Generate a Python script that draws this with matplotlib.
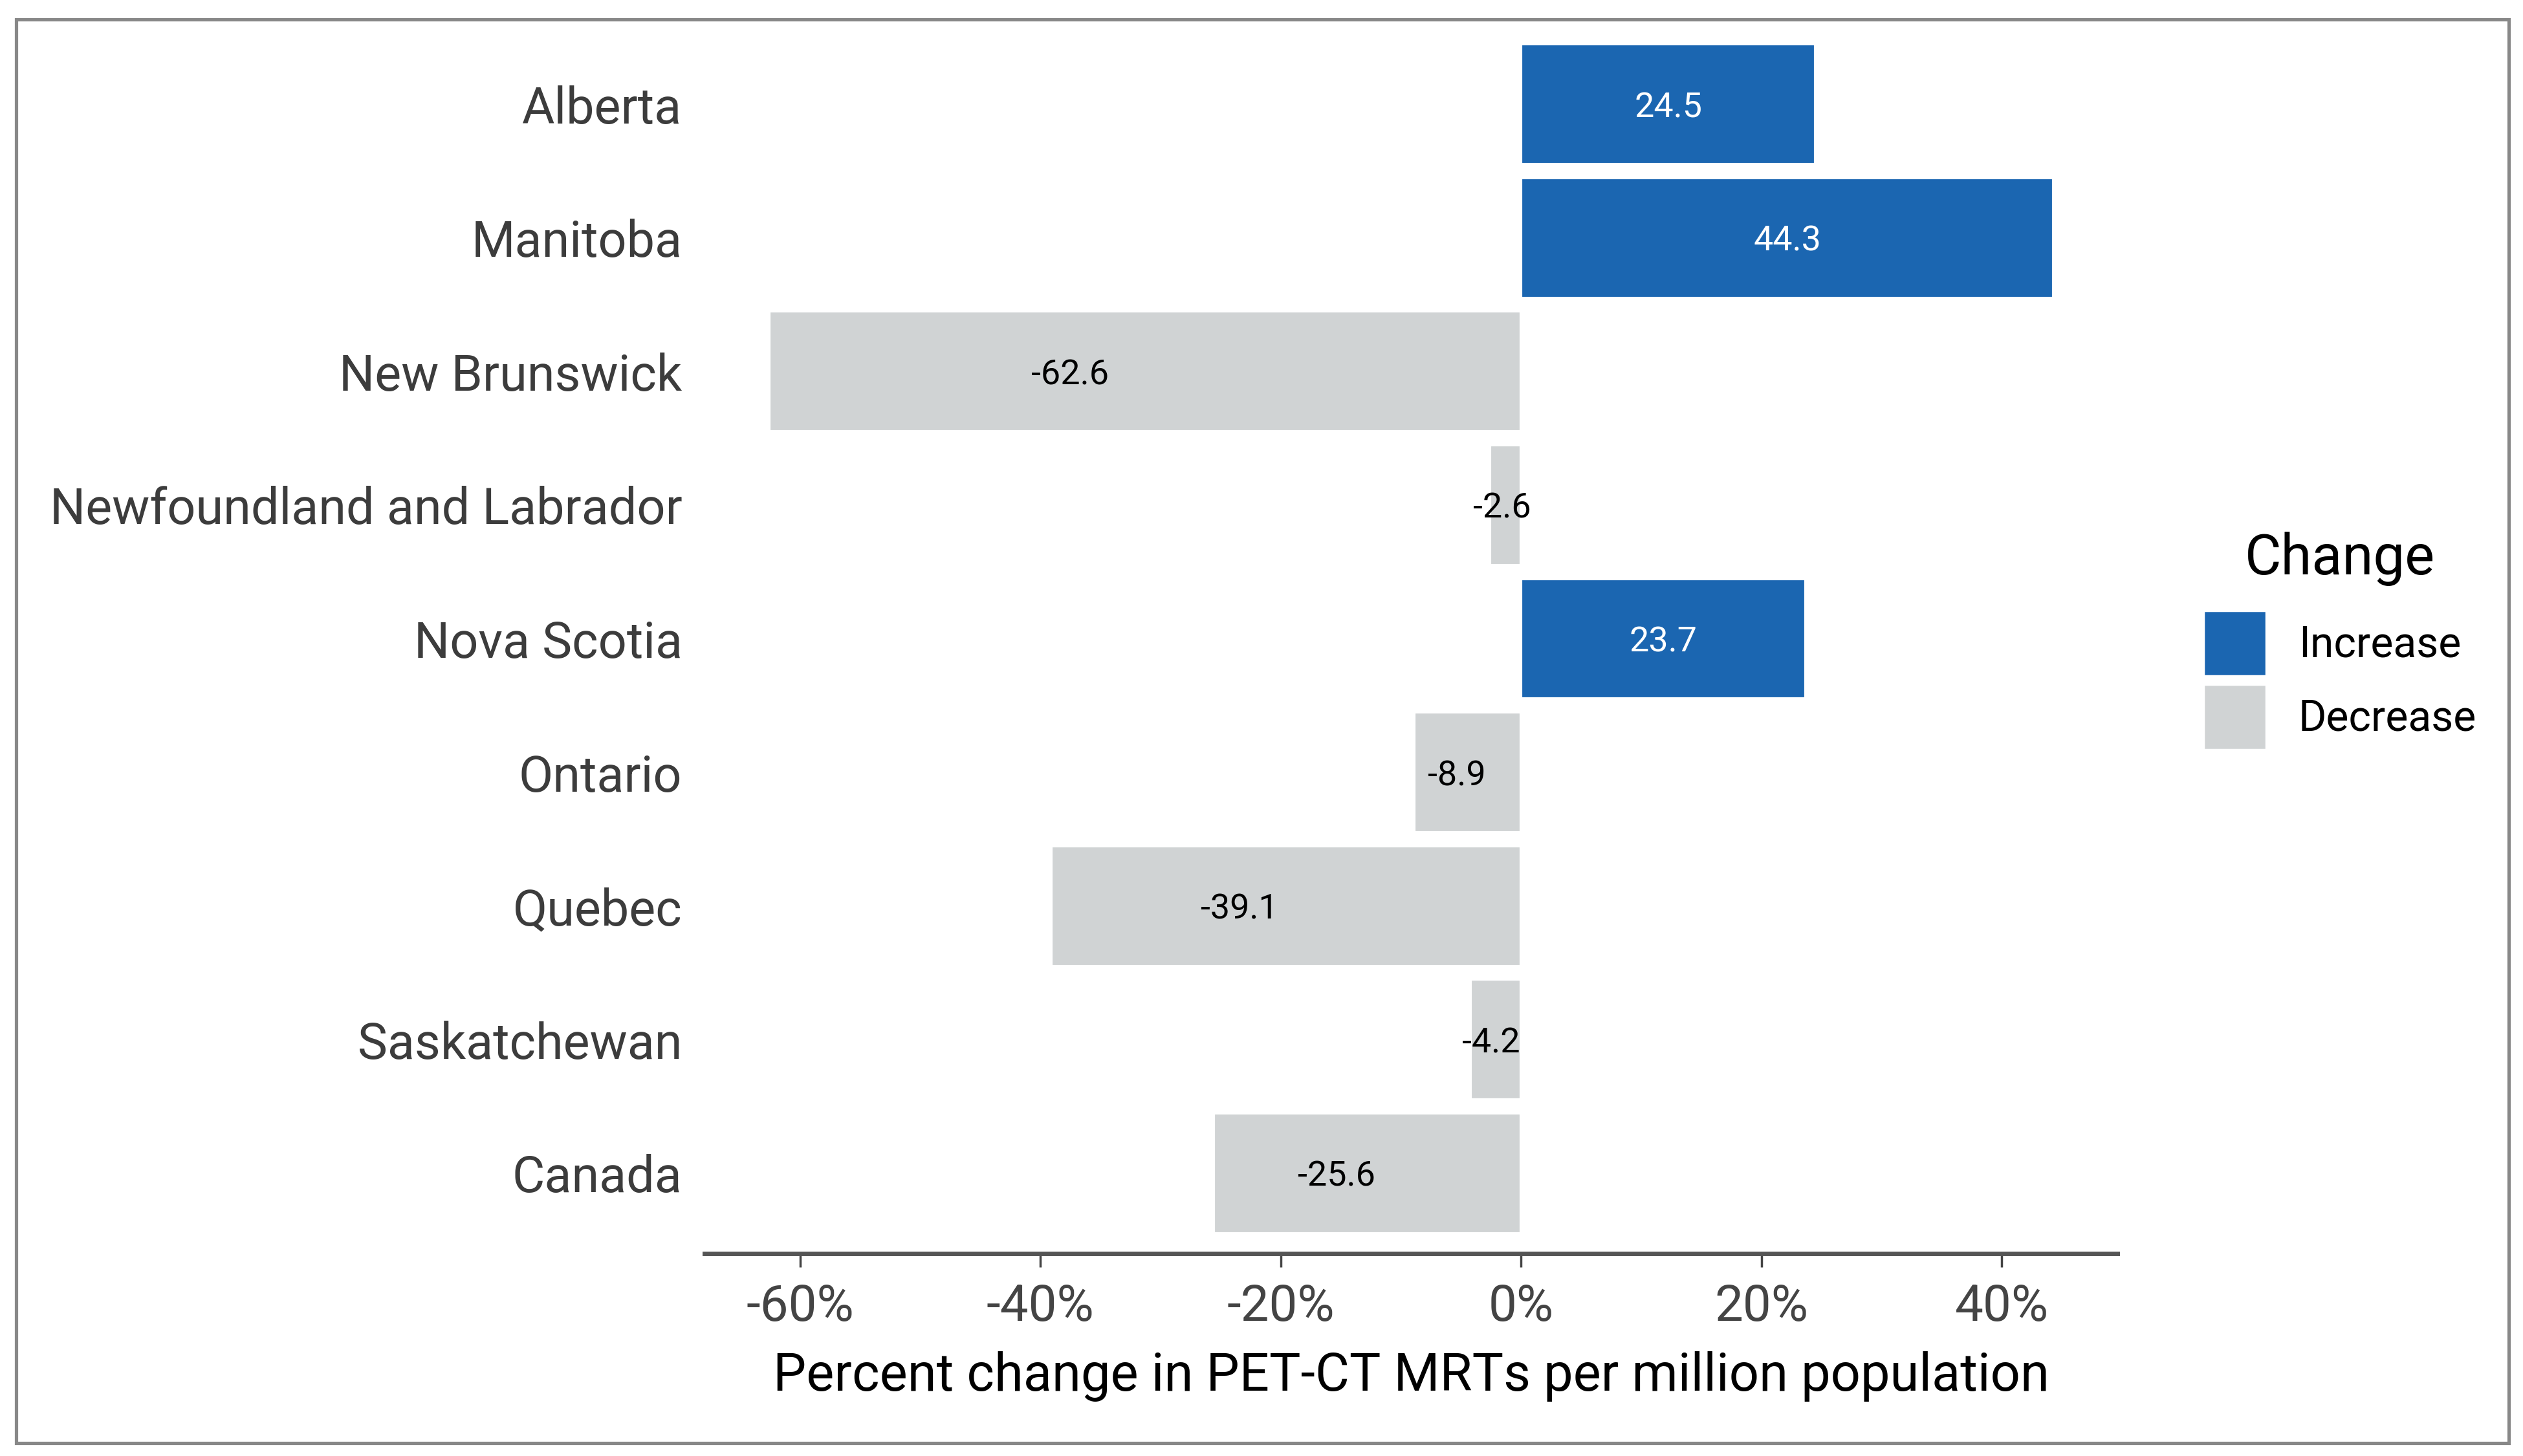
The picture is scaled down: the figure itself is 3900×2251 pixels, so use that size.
import matplotlib
matplotlib.use("Agg")
import matplotlib.pyplot as plt
from matplotlib.patches import Patch, Rectangle
from matplotlib.ticker import FuncFormatter

plt.rcParams['font.family'] = ['Roboto', 'DejaVu Sans']

# data
provinces = ['Alberta', 'Manitoba', 'New Brunswick', 'Newfoundland and Labrador',
             'Nova Scotia', 'Ontario', 'Quebec', 'Saskatchewan', 'Canada']
pct_change = [24.5, 44.3, -62.6, -2.6, 23.7, -8.9, -39.1, -4.2, -25.6]
change_labels = ['Increase', 'Decrease']
change_colors = ['#1b66b1', '#d0d3d4']

fig = plt.figure(figsize=(15.6, 9.004), dpi=250)
ax = fig.add_axes([0.2793, 0.1392, 0.5600, 0.8442])

ypos = list(range(len(provinces)))
colors = [change_colors[0] if v > 0 else change_colors[1] for v in pct_change]
ax.barh(ypos, pct_change, height=0.9, color=colors, edgecolor='white', linewidth=1.2)

for y, v in zip(ypos, pct_change):
    if v > 0:
        ax.text(v * 0.5, y, f'{v:.1f}', ha='center', va='center_baseline', fontsize=15.5, color='white')
    else:
        ax.text(v * 0.6, y, f'{v:.1f}', ha='center', va='center_baseline', fontsize=15.5, color='black')

span = max(pct_change) - min(pct_change)
ax.set_xlim(min(pct_change) - 0.05 * span, max(pct_change) + 0.05 * span)
ax.set_ylim(len(provinces) - 0.4, -0.6)
ax.set_xticks([-60, -40, -20, 0, 20, 40])
ax.xaxis.set_major_formatter(FuncFormatter(lambda x, p: f'{x:.0f}%'))
ax.set_yticks(ypos)
ax.set_yticklabels(provinces, fontsize=22.3, color='#3c3c3c')
ax.tick_params(axis='y', length=0, pad=10)
ax.tick_params(axis='x', length=6, width=1.0, color='#444444', labelsize=22.5,
               labelcolor='#444444', pad=7)
ax.set_xlabel('Percent change in PET-CT MRTs per million population', fontsize=23.4,
              color='black', labelpad=9)

for s in ['top', 'right', 'left']:
    ax.spines[s].set_visible(False)
ax.spines['bottom'].set_linewidth(2.0)
ax.spines['bottom'].set_color('#555555')

handles = [Patch(facecolor=c, edgecolor='white', label=l)
           for l, c in zip(change_labels, change_colors)]
leg = fig.legend(handles=handles, title='Change', loc='center left',
                 bbox_to_anchor=(0.858, 0.56), frameon=False, fontsize=19,
                 title_fontsize=25, handlelength=1.48, handleheight=1.97,
                 handletextpad=0.75, labelspacing=0.2)
leg.get_title().set_color('black')
# a bit more room between title and keys
leg._legend_box.sep = 11

fig.patches.append(Rectangle((0.0064, 0.0088), 0.9879, 0.9779, transform=fig.transFigure,
                             fill=False, edgecolor='#888888', linewidth=1.5))

fig.savefig('out.png', dpi=250, facecolor='white')
